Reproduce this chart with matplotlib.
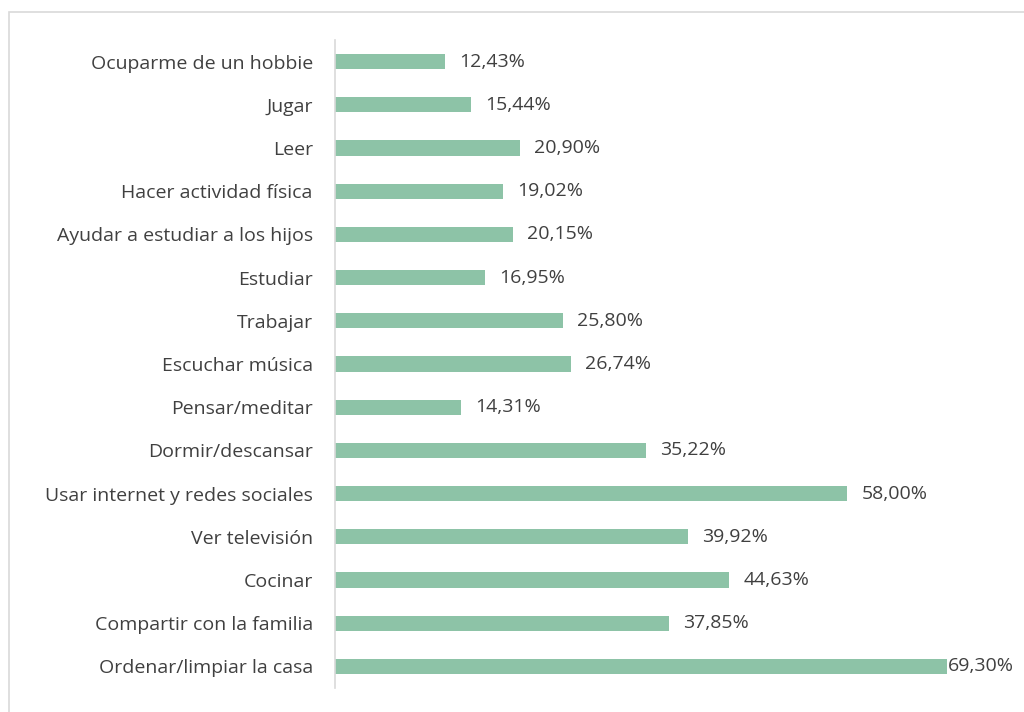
import matplotlib
matplotlib.use('Agg')
import matplotlib.pyplot as plt
from matplotlib import patches

plt.rcParams['font.family'] = ['Open Sans', 'DejaVu Sans']

# top to bottom, as in the chart
categorias = [
    'Ocuparme de un hobbie',
    'Jugar',
    'Leer',
    'Hacer actividad física',
    'Ayudar a estudiar a los hijos',
    'Estudiar',
    'Trabajar',
    'Escuchar música',
    'Pensar/meditar',
    'Dormir/descansar',
    'Usar internet y redes sociales',
    'Ver televisión',
    'Cocinar',
    'Compartir con la familia',
    'Ordenar/limpiar la casa',
]
valores = [12.43, 15.44, 20.90, 19.02, 20.15, 16.95, 25.80, 26.74,
           14.31, 35.22, 58.00, 39.92, 44.63, 37.85, 69.30]

BAR_COLOR = '#8dc3a7'
TEXT_COLOR = '#404040'
LINE_COLOR = '#d9d9d9'
XMAX = 76.4

fig = plt.figure(figsize=(10.24, 7.12), dpi=100)
ax = fig.add_axes([335 / 1024, 1 - 688 / 712, 675 / 1024, 648 / 712])

pos = list(range(len(categorias)))[::-1]
ax.barh(pos, valores, height=0.35, color=BAR_COLOR)

for y, v in zip(pos, valores):
    # labels close to the edge get pushed against the bar, like Excel does
    off = 1.6 if v < XMAX - 10 else 0.1
    ax.text(v + off, y, f'{v:.2f}%'.replace('.', ','), va='center', ha='left',
            fontsize=14, color=TEXT_COLOR)

ax.set_yticks(pos)
ax.set_yticklabels(categorias, fontsize=14, color=TEXT_COLOR)
ax.tick_params(axis='y', length=0, pad=16)
ax.set_xticks([])
ax.set_xlim(0, XMAX)
ax.set_ylim(-0.5, len(categorias) - 0.5)

for s in ['top', 'right', 'bottom']:
    ax.spines[s].set_visible(False)
ax.spines['left'].set_color(LINE_COLOR)
ax.spines['left'].set_linewidth(1.2)

# chart area border (runs off the right/bottom of the image)
border = patches.Rectangle((9 / 1024, -0.05), 1.2, 1 - 12 / 712 + 0.05,
                           transform=fig.transFigure, fill=False,
                           edgecolor=LINE_COLOR, linewidth=1.2)
fig.patches.append(border)

fig.savefig('out.png', dpi=100)
